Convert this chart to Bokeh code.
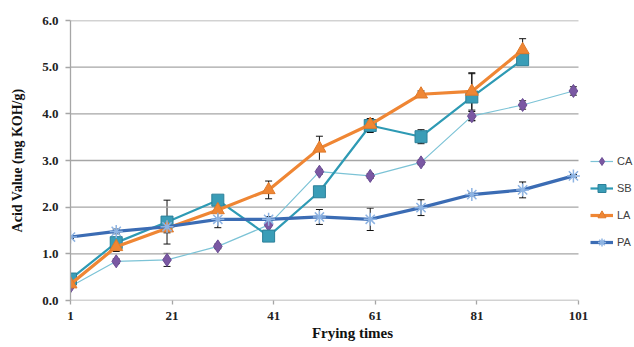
from bokeh.plotting import figure
from bokeh.models import (ColumnDataSource, Whisker, TeeHead, Legend, LegendItem,
                          FixedTicker, Range1d, PrintfTickFormatter)
from bokeh.embed import file_html
from bokeh.resources import INLINE

# ---- data ----
frying = [1, 10, 20, 30, 40, 50, 60, 70, 80, 90, 100]

ca = [0.30, 0.84, 0.87, 1.16, 1.62, 2.76, 2.67, 2.96, 3.95, 4.19, 4.49]
ca_err = [0.03, 0.05, 0.14, 0.05, 0.12, 0.05, 0.05, 0.05, 0.10, 0.09, 0.09]

sb = [0.46, 1.24, 1.68, 2.15, 1.38, 2.33, 3.75, 3.51, 4.36, 5.16]
sb_err = [0.05, 0.05, 0.47, 0.05, 0.07, 0.05, 0.15, 0.15, 0.50, 0.05]

la = [0.35, 1.15, 1.55, 1.94, 2.37, 3.26, 3.77, 4.42, 4.48, 5.37]
la_err = [0.05, 0.10, 0.10, 0.05, 0.19, 0.26, 0.05, 0.07, 0.40, 0.24]

pa = [1.36, 1.48, 1.58, 1.74, 1.74, 1.79, 1.74, 1.99, 2.27, 2.37, 2.67]
pa_err = [0.03, 0.05, 0.05, 0.18, 0.06, 0.16, 0.24, 0.17, 0.03, 0.17, 0.03]

series_names = ["CA", "SB", "LA", "PA"]
x_ticks = [1, 21, 41, 61, 81, 101]
y_ticks = [0, 1, 2, 3, 4, 5, 6]

# layout (pixels)
W, H = 634, 347
LEFT, TOP, BOTTOM = 70, 20, 47
AXIS_PX = 508          # pixel length of the x axis (1 .. 101)
x_start, x_end = x_ticks[0], x_ticks[-1]
x_view_end = x_start + (x_end - x_start) * (W - LEFT) / AXIS_PX

p = figure(width=W, height=H, output_backend="svg", toolbar_location=None,
           x_range=Range1d(x_start, x_view_end), y_range=Range1d(0, 6),
           min_border_left=LEFT, min_border_right=0, min_border_top=TOP,
           min_border_bottom=BOTTOM)
p.outline_line_color = None
p.background_fill_color = "white"
p.border_fill_color = "white"

grid_col = "#A6A6A6"
p.xgrid.grid_line_color = None
p.ygrid.grid_line_color = None

# horizontal gridlines limited to the axis extent
p.segment(x0=[x_start] * len(y_ticks), x1=[x_end] * len(y_ticks),
          y0=y_ticks, y1=y_ticks, line_color=grid_col, line_width=1.3)

serif = "Liberation Serif"
for ax in (p.xaxis[0], p.yaxis[0]):
    ax.axis_line_color = grid_col
    ax.axis_line_width = 1.3
    ax.major_tick_line_color = grid_col
    ax.major_tick_line_width = 1.3
    ax.minor_tick_line_color = None
    ax.major_tick_in = 0
    ax.major_label_text_font = serif
    ax.major_label_text_font_style = "bold"
    ax.major_label_text_font_size = "13px"
    ax.major_label_text_color = "#222222"
    ax.axis_label_text_font = serif
    ax.axis_label_text_font_style = "bold"
    ax.axis_label_text_color = "#111111"

p.xaxis.axis_line_color = None
p.xaxis.ticker = FixedTicker(ticks=x_ticks)
p.xaxis.major_tick_out = 4
p.xaxis.major_label_standoff = 7
p.xaxis.axis_label = "Frying times"
p.xaxis.axis_label_text_font_size = "15px"
p.xaxis.axis_label_standoff = 2

p.yaxis.ticker = FixedTicker(ticks=y_ticks)
p.yaxis.major_tick_out = 5
p.yaxis.major_label_standoff = 7
p.yaxis.formatter = PrintfTickFormatter(format="%.1f")
p.yaxis.axis_label = "Acid Value (mg KOH/g)"
p.yaxis.axis_label_text_font_size = "14px"
p.yaxis.axis_label_standoff = 14

# ---- series ----
styles = {
    "CA": dict(line_color="#7CC3D6", line_width=1.2, marker="diamond", size=13,
               fill="#7A58A3", mline="#6A4C93", mlw=1),
    "SB": dict(line_color="#2E9AB4", line_width=2.2, marker="square", size=12,
               fill="#3A9DB7", mline="#2C8099", mlw=1),
    "LA": dict(line_color="#EF8634", line_width=3.2, marker="triangle", size=13,
               fill="#EF8634", mline="#E07A2A", mlw=1),
    "PA": dict(line_color="#3B6CB4", line_width=3.2, marker="asterisk", size=13,
               fill="#8EB4E3", mline="#8EB4E3", mlw=1.5),
}
data = {"CA": (ca, ca_err), "SB": (sb, sb_err), "LA": (la, la_err), "PA": (pa, pa_err)}

items = []
for name in series_names:
    vals, errs = data[name]
    xs = frying[:len(vals)]
    st = styles[name]
    src = ColumnDataSource(dict(x=xs, y=vals,
                                upper=[v + e for v, e in zip(vals, errs)],
                                lower=[v - e for v, e in zip(vals, errs)]))
    r_line = p.line("x", "y", source=src, line_color=st["line_color"],
                    line_width=st["line_width"])
    r_mark = p.scatter("x", "y", source=src, marker=st["marker"], size=st["size"],
                       fill_color=st["fill"], line_color=st["mline"],
                       line_width=st["mlw"])
    w = Whisker(base="x", upper="upper", lower="lower", source=src,
                line_color="#111111", line_width=1,
                upper_head=TeeHead(size=7, line_color="#111111", line_width=1),
                lower_head=TeeHead(size=7, line_color="#111111", line_width=1))
    p.add_layout(w)
    items.append(LegendItem(label=name, renderers=[r_line, r_mark]))

legend = Legend(items=items, location=(520, 48), padding=0, margin=0,
                glyph_width=23, glyph_height=20, label_height=20, spacing=7,
                label_standoff=4, label_text_font="Liberation Sans",
                label_text_font_size="11px", label_text_color="#404040",
                border_line_color=None, background_fill_alpha=0)
p.add_layout(legend)

open("out.html", "w").write(file_html(p, INLINE))
